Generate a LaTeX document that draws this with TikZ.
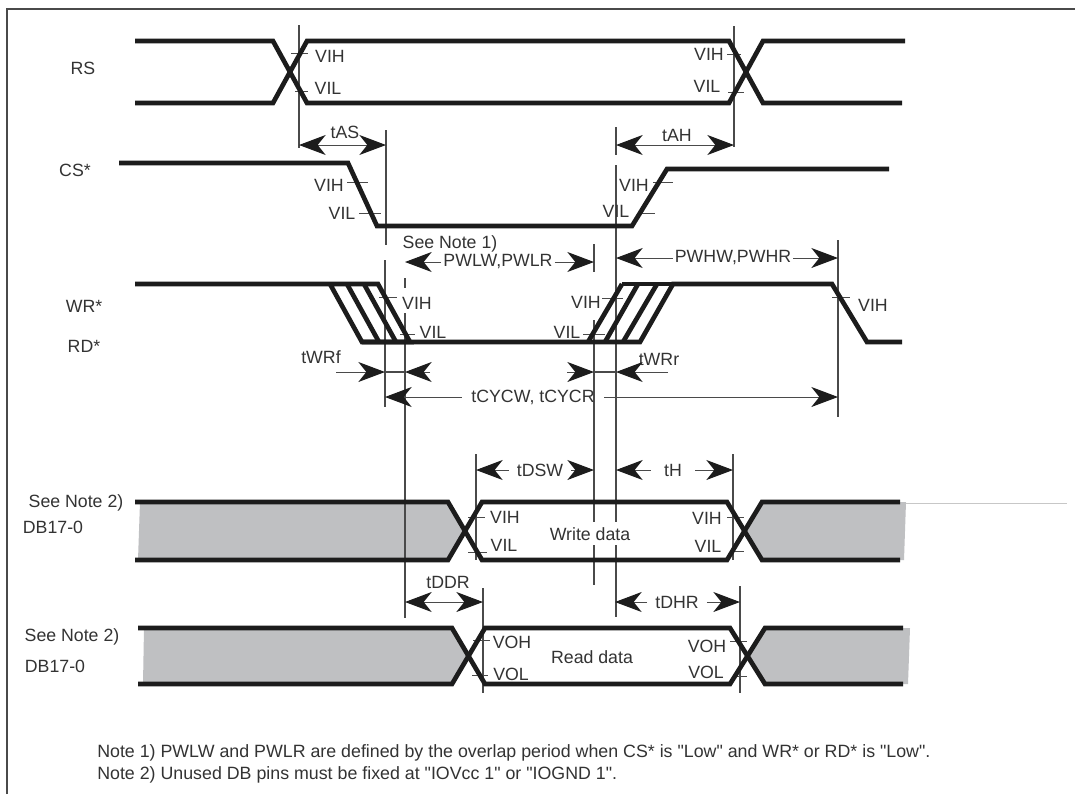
\documentclass[tikz,border=0pt]{standalone}
\usepackage{fontspec}
\setmainfont{Liberation Sans}
\newfontfamily\plainsans{Liberation Sans}
\usetikzlibrary{arrows.meta}
\definecolor{sig}{HTML}{1C1C1C}
\definecolor{ink}{HTML}{333333}
\definecolor{bandgray}{HTML}{BFC0C2}
\definecolor{guide}{HTML}{4A4A4A}
\tikzset{
  wave/.style={draw=sig,line width=3.5pt,line join=miter,miter limit=3},
  band/.style={fill=bandgray,draw=none},
  guideline/.style={draw=guide,line width=.85pt},
  tickmark/.style={draw=guide,line width=.75pt},
  headtip/.tip={Stealth[length=20pt,width=15pt,inset=6pt,color=sig]},
  dim/.style={draw=guide,line width=.75pt,-headtip},
  dimboth/.style={draw=guide,line width=.75pt,headtip-headtip},
  lab/.style={inner sep=1.5pt,text=ink,font=\plainsans\fontsize{13.3}{15}\selectfont},
  notetext/.style={inner sep=0pt,anchor=west,text=ink,font=\plainsans\fontsize{13.35}{15}\selectfont},
  frameline/.style={draw=guide,line width=1.4pt},
  stray/.style={draw=black!22,line width=.75pt}
}
\begin{document}
\begin{tikzpicture}[x=.75pt,y=-.75pt]
\useasboundingbox (0,0) rectangle (1075,794);
\fill[white] (0,0) rectangle (1075,794);
% frame
\draw[frameline] (7,794) -- (7,9) -- (1075,9);
% gray bands
\fill[band] (140,502) -- (448,502) -- (465,531) -- (448,560) -- (138,560) -- cycle;
\fill[band] (762,502) -- (745,531) -- (762,560) -- (904,560) -- (906,502) -- cycle;
\fill[band] (144,628) -- (452,628) -- (468,656) -- (452,684) -- (143,684) -- cycle;
\fill[band] (765,628) -- (748,656) -- (765,684) -- (908,684) -- (910,628) -- cycle;
\draw[stray] (906,503) -- (1067,503);
% named guide coordinates
\coordinate (gAa) at (299,145);
\coordinate (gAb) at (386,145);
\coordinate (gHa) at (616,145);
\coordinate (gHb) at (734,145);
\coordinate (pLa) at (405,262);
\coordinate (pLb) at (594,262);
\coordinate (pHa) at (616,258);
\coordinate (pHb) at (838,258);
\coordinate (fa) at (336,372);
\coordinate (fb) at (385,372);
\coordinate (fc) at (430,372);
\coordinate (fd) at (405,372);
\coordinate (ra) at (567,372);
\coordinate (rb) at (594,372);
\coordinate (rc) at (668,372);
\coordinate (re) at (616,372);
\coordinate (ca) at (385,397);
\coordinate (cb) at (838,397);
\coordinate (dsa) at (476,470);
\coordinate (dsb) at (594,470);
\coordinate (ha) at (616,470);
\coordinate (hb) at (733,470);
\coordinate (dda) at (405,602);
\coordinate (ddb) at (483,602);
\coordinate (dha) at (615,602);
\coordinate (dhb) at (740,602);
% guide lines
\draw[guideline] (299,25) -- (299,148);
\draw[guideline] (734,26) -- (734,147);
\draw[guideline] (386,130) -- (386,245);
\draw[guideline] (385,260) -- (385,407);
\draw[guideline] (405,278) -- (405,288);
\draw[guideline] (405,313) -- (405,618);
\draw[guideline] (594,244) -- (594,272);
\draw[guideline] (594,320) -- (594,522);
\draw[guideline] (594,545) -- (594,585);
\draw[guideline] (616,127) -- (616,155);
\draw[guideline] (616,165) -- (616,522);
\draw[guideline] (616,545) -- (616,617);
\draw[guideline] (838,240) -- (838,417);
\draw[guideline] (476,454) -- (476,560);
\draw[guideline] (733,454) -- (733,560);
\draw[guideline] (483,588) -- (483,693);
\draw[guideline] (740,586) -- (740,693);
% level ticks
\draw[tickmark] (291,53) -- (308,53);
\draw[tickmark] (295,91) -- (308,91);
\draw[tickmark] (727,54) -- (741,54);
\draw[tickmark] (728,92) -- (744,92);
\draw[tickmark] (347,182) -- (368,182);
\draw[tickmark] (359,213) -- (381,213);
\draw[tickmark] (653,182) -- (673,182);
\draw[tickmark] (642,213) -- (655,213);
\draw[tickmark] (379,297) -- (397,297);
\draw[tickmark] (400,334) -- (415,334);
\draw[tickmark] (602,298) -- (623,298);
\draw[tickmark] (583,334) -- (605,334);
\draw[tickmark] (832,297) -- (850,297);
\draw[tickmark] (468,517) -- (485,517);
\draw[tickmark] (468,552) -- (487,552);
\draw[tickmark] (727,517) -- (744,517);
\draw[tickmark] (730,551) -- (744,551);
\draw[tickmark] (473,640) -- (490,640);
\draw[tickmark] (472,675) -- (488,675);
\draw[tickmark] (730,641) -- (747,641);
\draw[tickmark] (733,676) -- (747,676);
% RS
\draw[wave] (135,41) -- (273,41) -- (307,103) -- (729,103) -- (763,41) -- (905,41);
\draw[wave] (135,103) -- (273,103) -- (307,41) -- (729,41) -- (763,103) -- (902,103);
% CS
\draw[wave] (119,163) -- (348,163) -- (377,226) -- (632,226) -- (667,169) -- (889,169);
% WR/RD
\draw[wave] (135,284) -- (378,284) -- (410,342) -- (362,342) -- (330,284);
\draw[wave] (347,284) -- (379,342);
\draw[wave] (364,284) -- (396,342);
\draw[wave] (362,342) -- (640,342) -- (673,284) -- (832,284) -- (867,342) -- (902,342);
\draw[wave] (588,342) -- (622,284);
\draw[wave] (605,342) -- (638,284);
\draw[wave] (623,342) -- (657,284);
\draw[wave] (622,284) -- (673,284);
% DB write
\draw[wave] (135,502) -- (448,502) -- (482,560) -- (727,560) -- (762,502) -- (900,502);
\draw[wave] (135,560) -- (448,560) -- (482,502) -- (727,502) -- (762,560) -- (900,560);
% DB read
\draw[wave] (138,628) -- (452,628) -- (485,684) -- (730,684) -- (765,628) -- (903,628);
\draw[wave] (138,684) -- (452,684) -- (485,628) -- (730,628) -- (765,684) -- (903,684);
% signal names
\node[lab] (nRS) at (83,68) {RS};
\node[lab] (nCS) at (75,170) {CS*};
\node[lab] (nWR) at (84,306) {WR*};
\node[lab] (nRD) at (84,346) {RD*};
\node[lab] (nNa) at (76,503) {See Note 2)};
\node[lab] (nDa) at (53,527) {DB17-0};
\node[lab] (nNb) at (72,637) {See Note 2)};
\node[lab] (nDb) at (55,666) {DB17-0};
% level labels
\node[lab] (a1) at (330,56) {VIH};
\node[lab] (a2) at (328,88) {VIL};
\node[lab] (a3) at (709,54) {VIH};
\node[lab] (a4) at (707,86) {VIL};
\node[lab] (b1) at (329,185) {VIH};
\node[lab] (b2) at (342,213) {VIL};
\node[lab] (b3) at (634,185) {VIH};
\node[lab] (b4) at (616,211) {VIL};
\node[lab] (c1) at (417,303) {VIH};
\node[lab] (c2) at (433,332) {VIL};
\node[lab] (c3) at (586,302) {VIH};
\node[lab] (c4) at (567,332) {VIL};
\node[lab] (c5) at (873,305) {VIH};
\node[lab] (d1) at (505,517) {VIH};
\node[lab] (d2) at (504,545) {VIL};
\node[lab] (d3) at (707,518) {VIH};
\node[lab] (d4) at (708,546) {VIL};
\node[lab] (e1) at (512,642) {VOH};
\node[lab] (e2) at (511,674) {VOL};
\node[lab] (e3) at (707,646) {VOH};
\node[lab] (e4) at (706,672) {VOL};
\node[lab] (wdata) at (590,534) {Write data};
\node[lab] (rdata) at (592,657) {Read data};
% timing labels
\node[lab] (tAS) at (345,132) {tAS};
\node[lab] (tAH) at (677,135) {tAH};
\node[lab] (seeOne) at (450,244) {See Note 1)};
\node[lab] (pwl) at (498,262) {PWLW,PWLR};
\node[lab] (pwh) at (733,258) {PWHW,PWHR};
\node[lab] (twf) at (321,357) {tWRf};
\node[lab] (twr) at (659,359) {tWRr};
\node[lab,inner xsep=7pt] (tcy) at (533,397) {tCYCW, tCYCR};
\node[lab,inner xsep=6pt] (tds) at (540,470) {tDSW};
\node[lab,inner xsep=10pt] (th) at (673,470) {tH};
\node[lab] (tdd) at (448,582) {tDDR};
\node[lab,inner xsep=6pt] (tdh) at (677,602) {tDHR};
% dimension arrows
\draw[dimboth] (gAa) -- (gAb);
\draw[dimboth] (gHa) -- (gHb);
\draw[dim] (pwl) -- (pLa);
\draw[dim] (pwl) -- (pLb);
\draw[dim] (pwh) -- (pHa);
\draw[dim] (pwh) -- (pHb);
\draw[dim] (fa) -- (fb);
\draw[dim] (fc) -- (fd);
\draw[guideline] (fb) -- (fd);
\draw[dim] (ra) -- (rb);
\draw[dim] (rc) -- (re);
\draw[guideline] (rb) -- (re);
\draw[dim] (tcy) -- (ca);
\draw[dim] (tcy) -- (cb);
\draw[dim] (tds) -- (dsa);
\draw[dim] (tds) -- (dsb);
\draw[dim] (th) -- (ha);
\draw[dim] (th) -- (hb);
\draw[dimboth] (dda) -- (ddb);
\draw[dim] (tdh) -- (dha);
\draw[dim] (tdh) -- (dhb);
% notes
\node[notetext] (noteA) at (97,753) {Note 1) PWLW and PWLR are defined by the overlap period when CS* is "Low" and WR* or RD* is "Low".};
\node[notetext] (noteB) at (97,775) {Note 2) Unused DB pins must be fixed at "IOVcc 1" or "IOGND 1".};
\end{tikzpicture}
\end{document}
